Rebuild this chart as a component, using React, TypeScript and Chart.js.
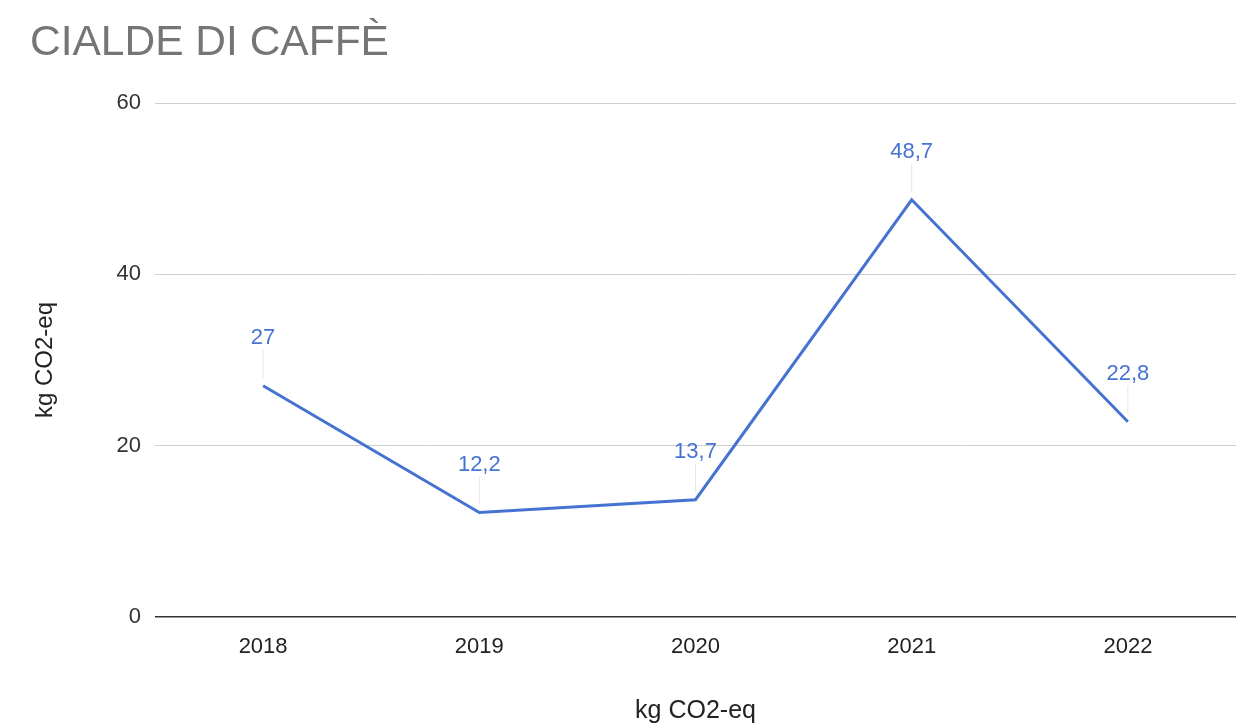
import React, { useEffect, useRef } from "react";
import { Chart, registerables } from "chart.js";

Chart.register(...registerables);

const chartTitle = "CIALDE DI CAFFÈ";
const years = ["2018", "2019", "2020", "2021", "2022"];
const values = [27, 12.2, 13.7, 48.7, 22.8];
const yMin = 0;
const yMax = 60;
const yStep = 20;
const axisTitle = "kg CO2-eq";

const LINE_COLOR = "#4673d1";
const FONT = "'Liberation Sans', Arial, sans-serif";

const fmt = (v: number) => String(v).replace(".", ",");

const labelPlugin = {
  id: "pointLabels",
  afterDatasetsDraw(chart: any) {
    const ctx = chart.ctx;
    const meta = chart.getDatasetMeta(0);
    ctx.save();
    meta.data.forEach((el: any, i: number) => {
      const { x, y } = el.getProps(["x", "y"], true);
      ctx.strokeStyle = "rgba(200,200,200,0.45)";
      ctx.lineWidth = 1;
      ctx.beginPath();
      ctx.moveTo(x, y - 36);
      ctx.lineTo(x, y - 8);
      ctx.stroke();
      ctx.fillStyle = LINE_COLOR;
      ctx.font = `22px ${FONT}`;
      ctx.textAlign = "center";
      ctx.textBaseline = "middle";
      ctx.fillText(fmt(values[i]), x, y - 48);
    });
    ctx.restore();
  },
};

export default function App() {
  const ref = useRef<HTMLCanvasElement>(null);
  useEffect(() => {
    document.body.style.margin = "0";
    const chart = new Chart(ref.current!, {
      type: "line",
      data: {
        labels: years,
        datasets: [
          {
            data: values,
            borderColor: LINE_COLOR,
            borderWidth: 3,
            pointRadius: 0,
            tension: 0,
            fill: false,
          },
        ],
      },
      options: {
        animation: false,
        responsive: true,
        maintainAspectRatio: false,
        layout: { padding: { left: 30, right: 16, top: 18, bottom: 0 } },
        plugins: {
          legend: { display: false },
          tooltip: { enabled: false },
          title: {
            display: true,
            text: chartTitle,
            align: "start",
            color: "#757575",
            font: { size: 42.5, family: FONT, weight: "normal" },
            padding: { top: 0, bottom: 34 },
          },
        },
        scales: {
          x: {
            offset: true,
            grid: { display: false, drawTicks: false },
            border: { display: false },
            ticks: { color: "#222", font: { size: 22, family: FONT }, padding: 17 },
            title: {
              display: true,
              text: axisTitle,
              color: "#222",
              font: { size: 25, family: FONT },
              padding: { top: 18.5, bottom: 0 },
            },
          },
          y: {
            min: yMin,
            max: yMax,
            afterFit: (scale: any) => {
              scale.width = 125;
            },
            ticks: {
              stepSize: yStep,
              color: "#333",
              font: { size: 22, family: FONT },
              padding: 14,
            },
            grid: {
              drawTicks: false,
              color: (c: any) => (c.tick && c.tick.value === 0 ? "#333" : "#cfcfcf"),
              lineWidth: (c: any) => (c.tick && c.tick.value === 0 ? 1.5 : 1),
            },
            border: { display: false },
            title: {
              display: true,
              text: axisTitle,
              color: "#222",
              font: { size: 24, family: FONT },
              padding: { top: 1, bottom: 0 },
            },
          },
        },
      },
      plugins: [labelPlugin],
    });
    return () => chart.destroy();
  }, []);
  return (
    <div style={{ width: 1252, height: 726, position: "relative" }}>
      <canvas ref={ref} />
    </div>
  );
}
